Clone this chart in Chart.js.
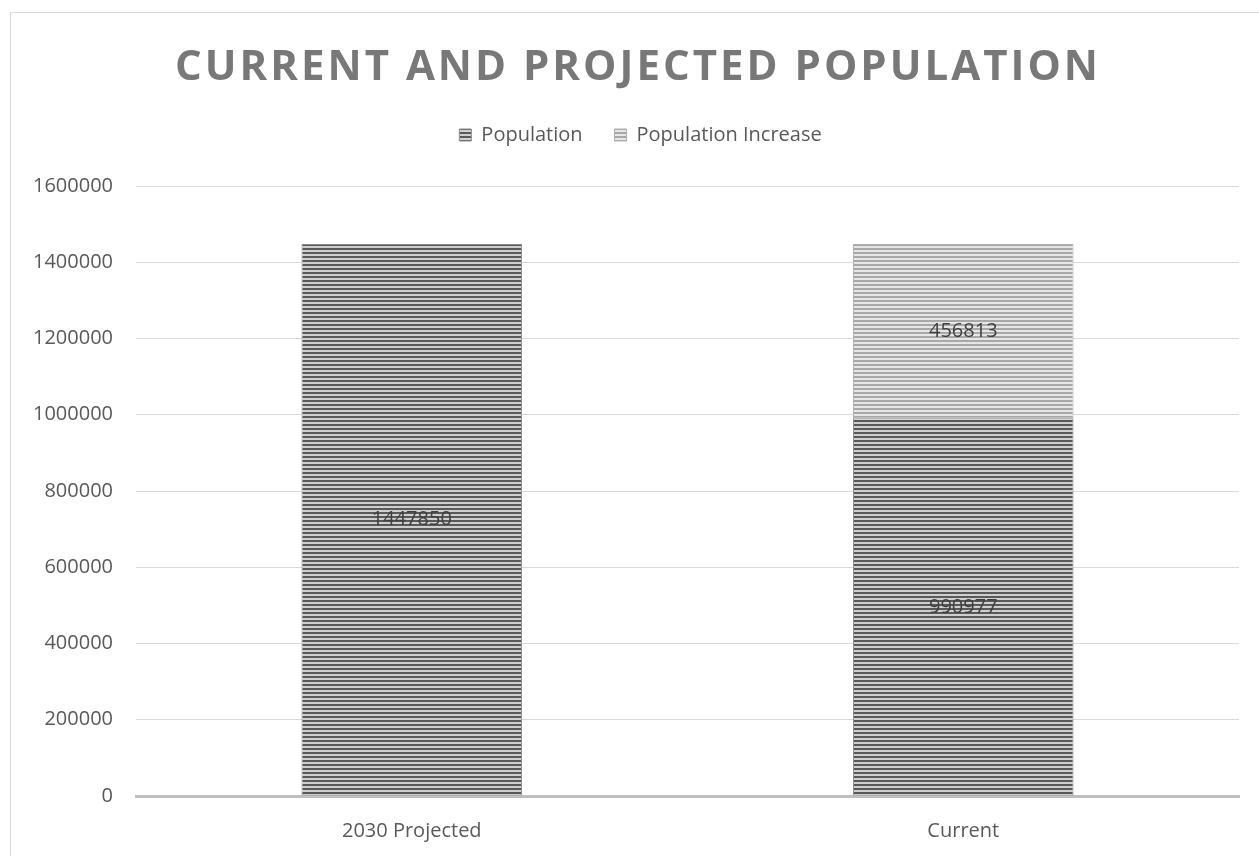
<!DOCTYPE html>
<html>
<head>
<meta charset="utf-8">
<script src="https://cdn.jsdelivr.net/npm/chart.js@4/dist/chart.umd.min.js"></script>
<style>
  html, body { margin: 0; padding: 0; background: #fff; overflow: hidden; }
  #marco { position: absolute; left: 10px; top: 12px; width: 1400px; height: 1000px; border: 1px solid #d9d9d9; }
  #grafica { position: absolute; left: 0; top: 0; }
</style>
</head>
<body>
<div id="marco"></div>
<canvas id="grafica" width="1259" height="856"></canvas>
<script>
// Datos de la gráfica
const categorias = ["2030 Projected", "Current"];
const poblacion = [1447850, 990977];
const incremento = [null, 456813];
const ticksY = [0, 200000, 400000, 600000, 800000, 1000000, 1200000, 1400000, 1600000];
const titulo = "CURRENT AND PROJECTED POPULATION";

// Patrón de rayas horizontales
function rayas(oscuro, claro) {
  const c = document.createElement("canvas");
  c.width = 4; c.height = 4;
  const g = c.getContext("2d");
  g.fillStyle = claro; g.fillRect(0, 0, 4, 4);
  g.fillStyle = oscuro; g.fillRect(0, 0, 4, 2);
  return g.createPattern(c, "repeat");
}
const patronOscuro = rayas("#595959", "#cfcfcf");
const patronClaro = rayas("#a8a8a8", "#e6e6e6");

const fuente = "'Open Sans', sans-serif";

// Título con espaciado entre letras
const tituloPlugin = {
  id: "tituloEspaciado",
  afterDraw(chart) {
    const ctx = chart.ctx;
    ctx.save();
    ctx.font = "bold 42px " + fuente;
    ctx.fillStyle = "#787878";
    ctx.textAlign = "center";
    ctx.textBaseline = "alphabetic";
    ctx.letterSpacing = "3px";
    ctx.fillText(titulo, 638, 80);
    ctx.restore();
  }
};

// Espacio extra bajo la leyenda y pequeño desplazamiento
const leyendaPlugin = {
  id: "leyendaAjuste",
  beforeInit(chart) {
    const fit = chart.legend.fit;
    chart.legend.fit = function () {
      fit.bind(this)();
      this.height += 31;
    };
    const draw = chart.legend.draw;
    chart.legend.draw = function () {
      const ctx = chart.ctx;
      ctx.save();
      ctx.translate(16, 0);
      draw.apply(this, arguments);
      ctx.restore();
    };
  }
};

// Etiquetas de valor en el centro de cada segmento
const etiquetasPlugin = {
  id: "etiquetas",
  afterDatasetsDraw(chart) {
    const ctx = chart.ctx;
    ctx.save();
    ctx.font = "20px " + fuente;
    ctx.fillStyle = "#404040";
    ctx.textAlign = "center";
    ctx.textBaseline = "middle";
    chart.data.datasets.forEach((ds, i) => {
      chart.getDatasetMeta(i).data.forEach((bar, j) => {
        const v = ds.data[j];
        if (v == null) return;
        const p = bar.getProps(["x", "y", "base"], true);
        ctx.fillText(String(v), p.x, (p.y + p.base) / 2);
      });
    });
    ctx.restore();
  }
};

new Chart(document.querySelector("#grafica"), {
  type: "bar",
  data: {
    labels: categorias,
    datasets: [
      {
        label: "Population",
        data: poblacion,
        backgroundColor: patronOscuro,
        borderColor: "#8c8c8c",
        borderWidth: 1,
        borderSkipped: false,
      },
      {
        label: "Population Increase",
        data: incremento,
        backgroundColor: patronClaro,
        borderColor: "#b0b0b0",
        borderWidth: 1,
        borderSkipped: false,
      },
    ]
  },
  options: {
    responsive: false,
    animation: false,
    devicePixelRatio: 1,
    layout: { padding: { top: 93, right: 20, left: 10, bottom: -10 } },
    datasets: { bar: { barPercentage: 0.4, categoryPercentage: 1 } },
    plugins: {
      title: { display: false },
      tooltip: { enabled: false },
      legend: {
        position: "top",
        labels: {
          font: { family: fuente, size: 20 },
          color: "#595959",
          boxWidth: 12,
          boxHeight: 12,
          padding: 32,
        }
      }
    },
    scales: {
      x: {
        stacked: true,
        grid: { display: false, drawTicks: false },
        border: { color: "#bfbfbf", width: 3 },
        ticks: { font: { family: fuente, size: 20 }, color: "#595959", padding: 23 }
      },
      y: {
        stacked: true,
        min: 0,
        max: 1600000,
        afterBuildTicks(scale) { scale.ticks = ticksY.map(v => ({ value: v })); },
        grid: { color: "#d9d9d9", drawTicks: false },
        border: { display: false },
        ticks: {
          font: { family: fuente, size: 20 },
          color: "#595959",
          padding: 23,
          callback: v => String(v)
        }
      }
    }
  },
  plugins: [leyendaPlugin, tituloPlugin, etiquetasPlugin]
});
</script>
</body>
</html>
